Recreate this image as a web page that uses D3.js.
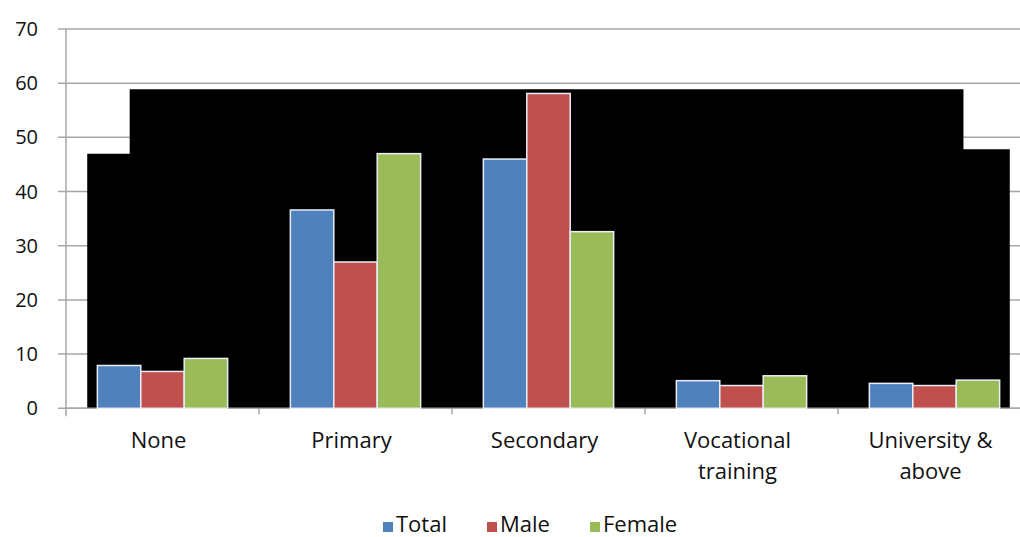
<!DOCTYPE html>
<html>
<head>
<meta charset="utf-8">
<script src="https://cdn.jsdelivr.net/npm/d3@7"></script>
<style>
  body { margin: 0; background: #fff; }
  text { font-family: "Open Sans", "Noto Sans", sans-serif; fill: #111; }
</style>
</head>
<body>
<div id="chart"></div>
<script>
// data
const categories = [["None"], ["Primary"], ["Secondary"], ["Vocational", "training"], ["University &", "above"]];
const seriesNames = ["Total", "Male", "Female"];
const totalValues = [7.9, 36.6, 46.0, 5.1, 4.6];
const maleValues = [6.8, 27.0, 58.1, 4.2, 4.2];
const femaleValues = [9.2, 47.0, 32.6, 6.0, 5.2];
const yTicks = [0, 10, 20, 30, 40, 50, 60, 70];
// black backdrop behind the bars, as (category position, value) steps
const backdropPos = [0.11, 0.33, 4.65, 4.89];
const backdropVal = [47, 58.9, 47.8];

const colors = ["#4f81bd", "#c0504d", "#9bbb59"];

const width = 1020, height = 537;
const margin = {top: 29, left: 66, bottom: 129};

const svg = d3.select("#chart").append("svg")
    .attr("width", width)
    .attr("height", height);

// plot runs a bit past the right edge of the picture
const x = d3.scaleBand()
    .domain(d3.range(categories.length))
    .range([margin.left, margin.left + 193 * 5]);
const xPos = d3.scaleLinear().domain([0, 5]).range([margin.left, margin.left + 193 * 5]);
const y = d3.scaleLinear().domain([0, 70]).range([height - margin.bottom + 0.3, margin.top]);

// gridlines
svg.append("g")
    .selectAll("line")
    .data(yTicks)
    .join("line")
    .attr("x1", margin.left - 8)
    .attr("x2", width)
    .attr("y1", d => y(d))
    .attr("y2", d => y(d))
    .attr("stroke", "#a6a6a6")
    .attr("stroke-width", 1.5);

// backdrop
const pts = [[backdropPos[0], 0], [backdropPos[0], backdropVal[0]], [backdropPos[1], backdropVal[0]],
    [backdropPos[1], backdropVal[1]], [backdropPos[2], backdropVal[1]], [backdropPos[2], backdropVal[2]],
    [backdropPos[3], backdropVal[2]], [backdropPos[3], 0]];
svg.append("path")
    .attr("d", d3.line().x(d => xPos(d[0])).y(d => y(d[1]))(pts) + "Z")
    .attr("fill", "#000");

// y axis line
svg.append("line")
    .attr("x1", margin.left).attr("x2", margin.left)
    .attr("y1", y(70)).attr("y2", y(0) + 8)
    .attr("stroke", "#a6a6a6").attr("stroke-width", 1.5);

// x axis line + ticks
svg.append("line")
    .attr("x1", margin.left).attr("x2", width)
    .attr("y1", y(0)).attr("y2", y(0))
    .attr("stroke", "#a6a6a6").attr("stroke-width", 1.5);
svg.append("g")
    .selectAll("line")
    .data(d3.range(1, 5))
    .join("line")
    .attr("x1", d => xPos(d)).attr("x2", d => xPos(d))
    .attr("y1", y(0)).attr("y2", y(0) + 6)
    .attr("stroke", "#a6a6a6").attr("stroke-width", 1.5);

// y tick labels
svg.append("g")
    .selectAll("text")
    .data(yTicks)
    .join("text")
    .attr("x", 38)
    .attr("y", d => y(d))
    .attr("dy", "0.35em")
    .attr("text-anchor", "end")
    .attr("font-size", 20)
    .text(d => d);

// bars
const series = [totalValues, maleValues, femaleValues];
const barW = x.bandwidth() * 0.225;
const groupOff = (x.bandwidth() - barW * 3) / 2;

series.forEach((vals, s) => {
    svg.append("g")
        .selectAll("rect")
        .data(vals)
        .join("rect")
        .attr("x", (d, i) => x(i) + groupOff + s * barW)
        .attr("y", d => y(d))
        .attr("width", barW)
        .attr("height", d => y(0) - y(d))
        .attr("fill", colors[s])
        .attr("stroke", "#e8eef5")
        .attr("stroke-width", 1.5);
});

// category labels
const labels = svg.append("g")
    .selectAll("text")
    .data(categories)
    .join("text")
    .attr("text-anchor", "middle")
    .attr("font-size", 22)
    .attr("transform", (d, i) => `translate(${x(i) + x.bandwidth() / 2 - 4},448)`);
labels.selectAll("tspan")
    .data(d => d)
    .join("tspan")
    .attr("x", 0)
    .attr("dy", (d, i) => i === 0 ? 0 : 31)
    .text(d => d);

// legend
const legendX = [383, 487, 590];
const legend = svg.append("g")
    .selectAll("g")
    .data(seriesNames)
    .join("g")
    .attr("transform", (d, i) => `translate(${legendX[i]},522)`);
legend.append("rect")
    .attr("x", 0).attr("y", 0)
    .attr("width", 10).attr("height", 10)
    .attr("fill", (d, i) => colors[i]);
legend.append("text")
    .attr("x", 13)
    .attr("y", 10)
    .attr("font-size", 22)
    .text(d => d);
</script>
</body>
</html>
